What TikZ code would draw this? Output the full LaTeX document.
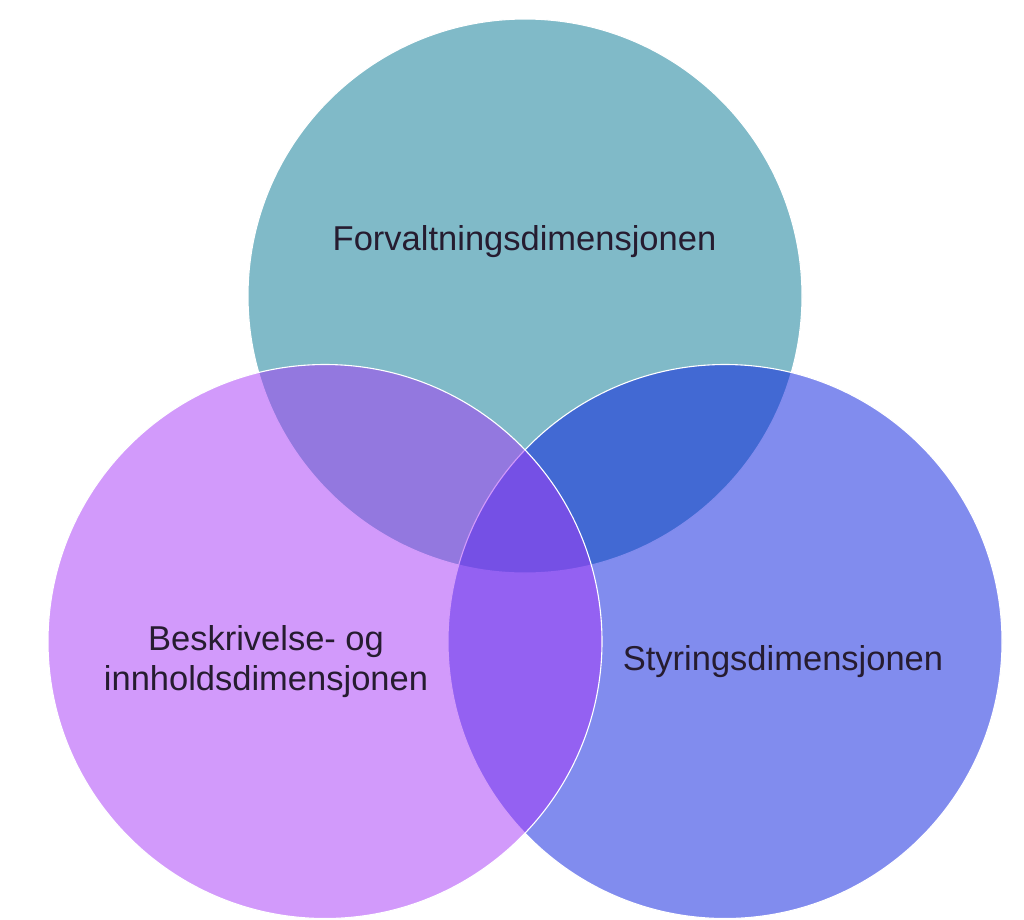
\documentclass[tikz,border=0pt]{standalone}
\usepackage{fontspec}
\setmainfont{Liberation Sans}
\begin{document}
\begin{tikzpicture}[x=1pt,y=-1pt,
  ring/.style={circle, minimum size=554pt, inner sep=0pt, draw=white, line width=1.1pt},
  label/.style={text=labeltext, font=\fontsize{34.5}{40}\selectfont, inner sep=0pt, align=center}]
  \definecolor{toptone}{RGB}{128,186,200}
  \definecolor{righttone}{RGB}{8,29,222}
  \definecolor{lefttone}{RGB}{167,57,247}
  \definecolor{labeltext}{RGB}{38,28,48}
  \useasboundingbox (0,0) rectangle (1024,919);
  % three overlapping dimensions
  \node[ring, fill=toptone] (forv) at (525,296) {};
  \node[ring, fill=righttone, fill opacity=0.51, draw opacity=1] (styr) at (725,641.5) {};
  \node[ring, fill=lefttone, fill opacity=0.51, draw opacity=1] (besk) at (325,641.5) {};
  % labels
  \node[label, anchor=base] (forvtext) at (524.5,250) {Forvaltningsdimensjonen};
  \node[label, anchor=base] (styrtext) at (783,670) {Styringsdimensjonen};
  \node[label, anchor=base] (besktext) at (266,690) {Beskrivelse- og\\innholdsdimensjonen};
\end{tikzpicture}
\end{document}
